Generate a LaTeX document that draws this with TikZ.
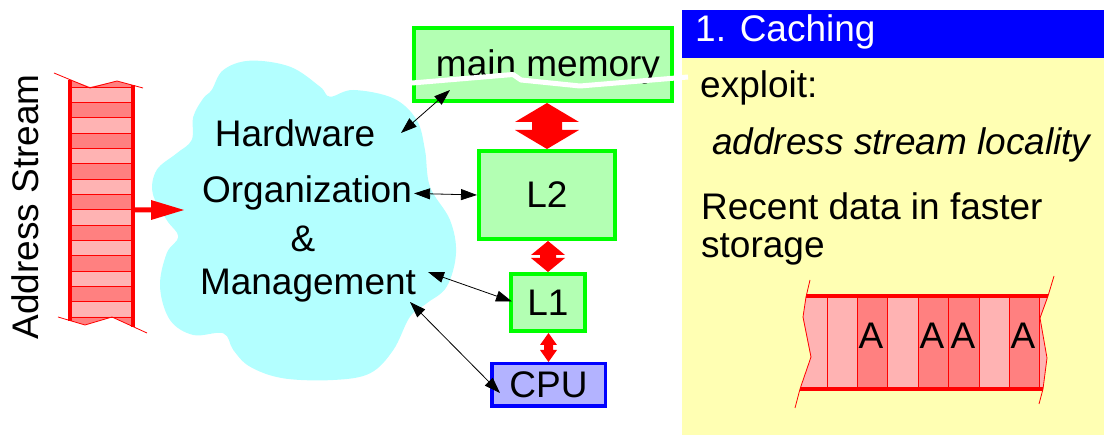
\documentclass[tikz,border=0pt]{standalone}
\usepackage{fontspec}
\setmainfont{Liberation Sans}
\usetikzlibrary{arrows.meta,calc}

\definecolor{boxgreen}{RGB}{0,255,0}
\definecolor{boxfill}{RGB}{179,255,179}
\definecolor{cpufill}{RGB}{179,179,255}
\definecolor{cloudcyan}{RGB}{179,255,255}
\definecolor{panelyellow}{RGB}{255,255,179}
\definecolor{cellLight}{RGB}{255,179,179}
\definecolor{cellDark}{RGB}{255,128,128}

% fat red double-headed link between two stacked nodes
% #1 upper anchor, #2 lower anchor, #3 head half width, #4 shaft half width, #5 head length
\newcommand\fatlink[5]{%
  \fill[red] let \p1=(#1), \p2=(#2) in
    (\x2,\y1) -- (\x2+#3,\y1-#5) -- (\x2+#4,\y1-#5) -- (\x2+#4,\y2+#5) -- (\x2+#3,\y2+#5)
    -- (\x2,\y2) -- (\x2-#3,\y2+#5) -- (\x2-#4,\y2+#5) -- (\x2-#4,\y1-#5) -- (\x2-#3,\y1-#5) -- cycle;}

\begin{document}
\begin{tikzpicture}[x=1pt,y=-1pt,
  every node/.style={font=\fontsize{37}{40}\selectfont, inner sep=0pt},
  gbox/.style={draw=boxgreen, fill=boxfill, line width=4pt},
  cpubox/.style={draw=blue, fill=cpufill, line width=3.5pt},
  conn/.style={draw=black, line width=0.8pt,
    {Triangle[length=16pt,width=11pt]}-{Triangle[length=16pt,width=11pt]}},
  thinred/.style={draw=red, line width=0.8pt},
  thickred/.style={draw=red, line width=4pt}]

\useasboundingbox (0,0) rectangle (1104,435);

% ---------- cloud ----------
\fill[cloudcyan] plot[smooth cycle, tension=0.6] coordinates {
  (211.7,90) (223.3,70) (250,60.7) (290,66.7) (320,86.7) (330,96.7) (353.3,90)
  (393.3,98.3) (416.7,120) (425,150) (430,186.7) (450,220) (456,253.3)
  (446.7,286.7) (426.7,303.3) (410,316.7) (393.3,350) (370,373.3) (333.3,380)
  (283.3,378.3) (250,366.7) (233.3,350) (223.3,333.3) (193.3,335) (170,320)
  (160,286.7) (166.7,253.3) (178.3,236.7) (166.7,220) (152.7,193.3)
  (156.7,170) (176.7,153.3) (191.7,140) (193.3,116.7) (203.3,98.3)};

% ---------- address stream tape ----------
\fill[cellDark] (70,79.7) -- (90,87) -- (117,81) -- (133,85.3) -- (133,87) -- (70,87) -- cycle;
\foreach \k in {0,...,14}{
  \pgfmathsetmacro{\ya}{87+15.333*\k}
  \pgfmathsetmacro{\yb}{87+15.333*(\k+1)}
  \pgfmathparse{mod(\k,2)==0 ? "cellLight" : "cellDark"}
  \fill[\pgfmathresult] (70,\ya) rectangle (133,\yb);
}
\fill[cellDark] (70,317) -- (70,320.6) -- (85,325) -- (112,317) -- (133,326.6) -- (133,317) -- cycle;
\foreach \k in {0,...,15}{
  \draw[thinred] (70,87+15.333*\k) -- (133,87+15.333*\k);
}
\draw[thinred] (54,73) -- (90,88) -- (117,81) -- (143,88);
\draw[thinred] (58,317) -- (85,325) -- (112,317) -- (147,333);
\draw[thickred] (70,79.7) -- (70,320.6);
\draw[thickred] (133,85.3) -- (133,326.6);

\node[rotate=90, anchor=base] (addr) at (38,207) {Address Stream};

% red arrow from the tape into the cloud
\coordinate (tapeout) at (135,210);
\coordinate (cloudin) at (184,210);
\fill[red] let \p1=(tapeout), \p2=(cloudin) in
  (\x1,\y1+2.5pt) -- (\x2-33pt,\y1+2.5pt) -- (\x2-33pt,\y1+10pt) -- (\x2,\y2)
  -- (\x2-33pt,\y1-10pt) -- (\x2-33pt,\y1-2.5pt) -- (\x1,\y1-2.5pt) -- cycle;

% ---------- right panel ----------
\fill[panelyellow] (682,58) rectangle (1104,435);
\fill[blue] (682,10) rectangle (1104,58);
\node[anchor=base west, text=white] (hdr) at (695,42) {1. Caching};
\node[anchor=base west] (expl) at (700,98) {exploit:};
\node[anchor=base west, font=\fontsize{37}{40}\selectfont\itshape] (loc) at (712,155) {address stream locality};
\node[anchor=base west] (rec1) at (701,220) {Recent data in faster};
\node[anchor=base west] (rec2) at (701,258) {storage};

% horizontal tape with hits
\fill[cellLight] (806,296) -- (827,296) -- (827,389) -- (800,389) -- (811,357) -- (803,317) -- cycle;
\fill[cellLight] (827,296) rectangle (857,389);
\fill[cellDark]  (857,296) rectangle (887,389);
\fill[cellLight] (887,296) rectangle (918,389);
\fill[cellDark]  (918,296) rectangle (948,389);
\fill[cellDark]  (948,296) rectangle (979,389);
\fill[cellLight] (979,296) rectangle (1009,389);
\fill[cellDark]  (1009,296) rectangle (1039,389);
\fill[cellLight] (1039,296) -- (1048,296) -- (1040,318) -- (1047,358) -- (1043,389) -- (1039,389) -- cycle;
\foreach \x in {827,857,887,918,948,979,1009,1039}{
  \draw[thinred] (\x,296) -- (\x,389);
}
\draw[thinred] (810,280) -- (806,297) -- (803,317) -- (811,357) -- (800,389) -- (795,408);
\draw[thinred] (1054,276) -- (1048,296) -- (1040,318) -- (1047,358) -- (1043,389) -- (1039,404);
\draw[thickred] (806,296) -- (1048,296);
\draw[thickred] (800,389) -- (1043,389);
\node[anchor=base] (hit1) at (871,349) {A};
\node[anchor=base] (hit2) at (932,349) {A};
\node[anchor=base] (hit3) at (963,349) {A};
\node[anchor=base] (hit4) at (1023,349) {A};

% ---------- memory hierarchy ----------
\node[gbox, minimum width=258, minimum height=73] (mm) at (543,64.5) {};
\node[gbox, minimum width=136, minimum height=88] (L2) at (547,195) {L2};
\node[gbox, minimum width=74, minimum height=57] (L1) at (548,302.5) {L1};
\node[cpubox, minimum width=113.5, minimum height=42.5] (CPU) at (548.5,385) {CPU};

\fatlink{mm.south}{L2.north}{32pt}{15pt}{19pt}
\fatlink{L2.south}{L1.north}{17pt}{8pt}{14pt}
\fatlink{L1.south}{CPU.north}{8.5pt}{4.5pt}{12pt}

\node[anchor=base] (mmtext) at (548,77) {main memory};
% torn edge across the main memory box
\draw[white, line width=5pt, line join=round] (412,83) -- (513,74.5) -- (521,80) -- (580,86) -- (688,77);

% ---------- cloud text ----------
\node[anchor=base] (hw) at (295,147) {Hardware};
\node[anchor=base] (org) at (307,203) {Organization};
\node[anchor=base] (amp) at (303,252) {\&};
\node[anchor=base] (mgmt) at (308,295) {Management};

% ---------- thin connectors ----------
\coordinate (hwtip) at (401,133);
\coordinate (mgR) at (428,272);
\coordinate (mgB) at (410,302);
\draw[conn] (hwtip) -- ($(mm.south west)+(38,-13)$);
\draw[conn] ([xshift=2pt]org.east) -- (L2.west);
\draw[conn] (mgR) -- ([xshift=3pt,yshift=1pt]L1.west);
\draw[conn] (mgB) -- ($(CPU.west)+(10,8)$);
\end{tikzpicture}
\end{document}
